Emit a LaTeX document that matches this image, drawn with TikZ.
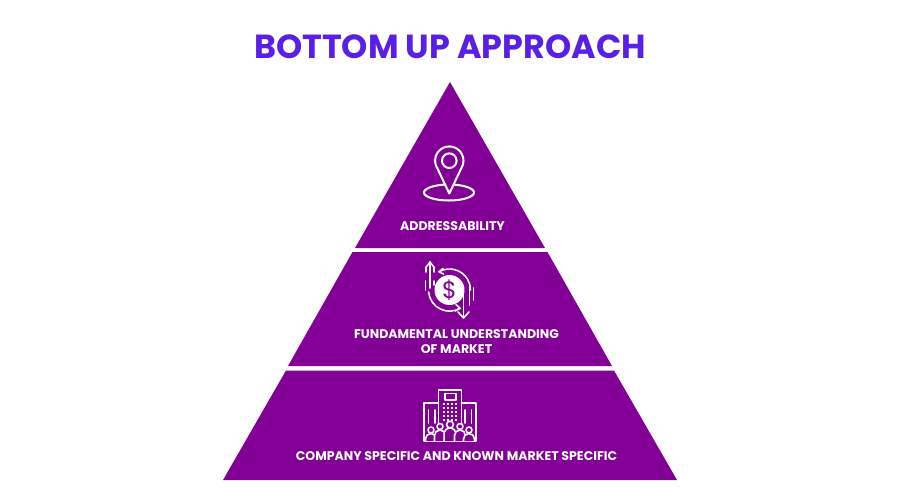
\documentclass[tikz,border=0pt]{standalone}
\usepackage{fontspec}
\setmainfont{Poppins}[BoldFont={Poppins Bold}]
\definecolor{pyr}{HTML}{830097}
\definecolor{ttl}{HTML}{5A1FE6}
\tikzset{
  lbl/.style={text=white,font=\fontsize{7.15}{8.6}\selectfont\bfseries,align=center,inner sep=0pt},
  ico/.style={draw=white,line width=0.9pt,line cap=round,line join=round},
  pin/.style={draw=white,line width=1.15pt,line cap=round,line join=round},
}
\begin{document}
\begin{tikzpicture}[x=0.02cm,y=-0.02cm]
\useasboundingbox (0,0) rectangle (900,500);
\node[text=ttl,font=\fontsize{19}{22}\selectfont\bfseries,inner sep=0pt] (title) at (450,47) {BOTTOM UP APPROACH};
\fill[pyr] (450,82) -- (545,248) -- (355,248) -- cycle;
\fill[pyr] (547.5,252) -- (612,366) -- (288,366) -- (352.5,252) -- cycle;
\fill[pyr] (614,370.5) -- (677,480) -- (223,480) -- (286,370.5) -- cycle;
\node[lbl] (addr) at (452.5,226) {ADDRESSABILITY};
\node[lbl] (fund) at (456.5,341.5) {FUNDAMENTAL UNDERSTANDING\\OF MARKET};
\node[lbl] (comp) at (456.5,456.5) {COMPANY SPECIFIC AND KNOWN MARKET SPECIFIC};
% pin
\draw[pin] (449,192.5) ellipse (25 and 8);
\draw[pin,fill=pyr] (449.3,193.5) -- (437.4,168.4) arc (147:393:14.2) -- cycle;
\draw[pin] (449.3,160.7) circle (7.3);
% dollar
\fill[white] (449.5,290) circle (15);
\node[text=pyr,font=\fontsize{13.5}{13.5}\selectfont,inner sep=0pt] (dollar) at (449.5,290) {\$};
\draw[ico] (439,271.8) arc (-120:0:21);
\draw[ico] (443,268.5) -- (439,271.8) -- (443.5,274);
\draw[ico] (428.6,292) arc (175:60:21);
\draw[ico] (456,304.5) -- (460,308.2) -- (455.5,311);
\draw[ico] (430,262) -- (430,288);
\draw[ico] (425.5,268) -- (430,262) -- (434.5,268);
\draw[ico] (463.5,288) -- (463.5,318);
\draw[ico] (458,312) -- (463.5,318) -- (469,312);
\draw[ico] (426,267) -- (426,272);
\draw[ico] (425.5,281) -- (425.5,290);
\draw[ico] (434,267) -- (434,272);
\draw[ico] (434,281) -- (434,285);
\draw[ico] (469.5,288) -- (469.5,305);
\draw[ico] (473.5,288) -- (473.5,300);
% buildings
\draw[ico] (438.3,441) -- (438.3,390) -- (461.7,390) -- (461.7,441);
\draw[ico] (445,393.5) rectangle (456,400);
\draw[ico] (438.3,403) -- (424,403) -- (424,441) -- (476,441) -- (476,403) -- (461.7,403);
\foreach \x in {428.5,435,465,471.5} {
  \draw[ico] (\x,410) -- (\x,423);
}
\foreach \x in {443.5,447.8,452,456.2} {
  \foreach \y in {404,408,412,416,420} {
    \fill[white] (\x-1,\y-1) rectangle (\x+1,\y+1);
  }
}
\foreach \x/\y/\r in {431/430/3,440/426.5/3,450/424.5/3.4,460/426.5/3,469/430/3} {
  \draw[ico,fill=pyr] (\x-\r-2.5,441) -- (\x-\r-2.5,\y+\r+6) arc (180:360:\r+2.5) -- (\x+\r+2.5,441);
  \draw[ico,fill=pyr] (\x,\y) circle (\r);
}
\end{tikzpicture}
\end{document}
